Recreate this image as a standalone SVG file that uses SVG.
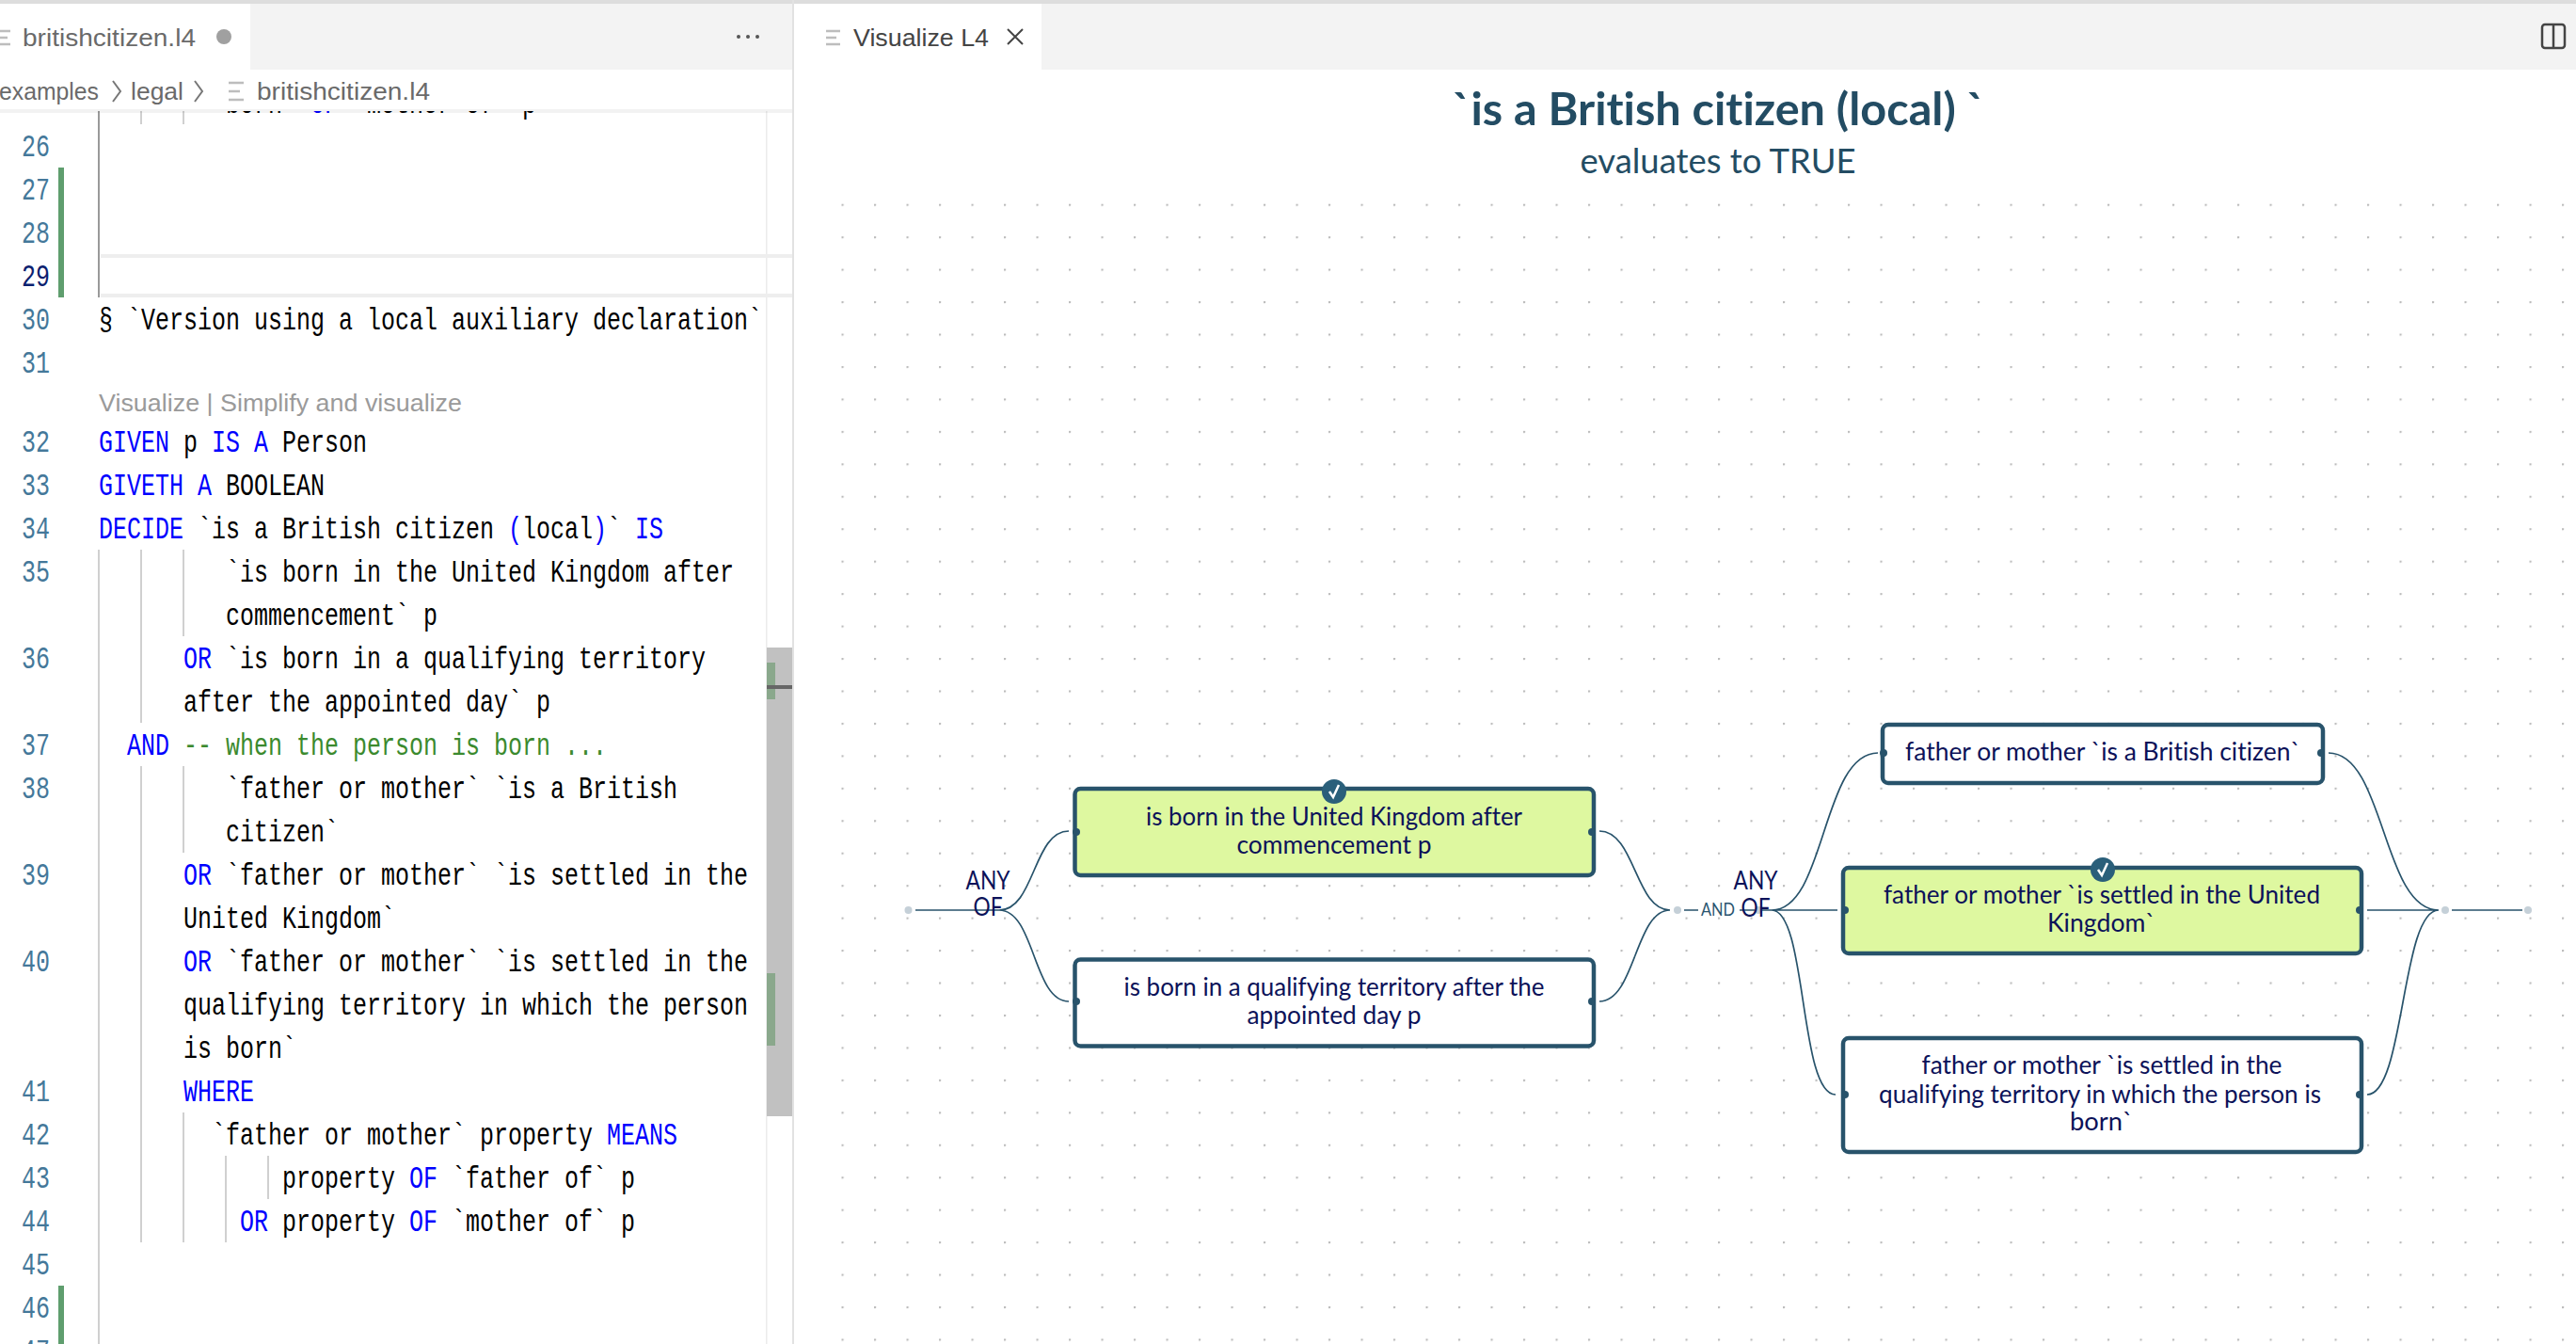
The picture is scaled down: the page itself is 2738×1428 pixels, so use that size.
<svg xmlns="http://www.w3.org/2000/svg" width="2738" height="1428" viewBox="0 0 2738 1428">
<style>
.m{font-family:"Liberation Mono",monospace;font-size:33px;fill:#000}
.k{fill:#0000ff}.c{fill:#3b8a2e}
.n{fill:#44789a}
.s{font-family:"Lato","Liberation Sans",sans-serif;font-variant-ligatures:none}
.ui{font-family:"Liberation Sans",sans-serif;font-size:25px;fill:#6a6a6a}
.g{stroke:#d0d0d0;stroke-width:2;fill:none}
.box{fill:#fff;stroke:#28536b;stroke-width:4.5}
.box.t{fill:#def8a0}
.p{fill:#28536b}
.e{fill:#c5d0d8}
.w{fill:none;stroke:#28536b;stroke-width:1.7}
.nt{font-family:"Lato","Liberation Sans",sans-serif;font-size:27px;fill:#0c1259;text-anchor:middle;font-variant-ligatures:none}
.lab{font-family:"Lato","Liberation Sans",sans-serif;font-size:26px;fill:#0c1259;text-anchor:middle}
.ck{fill:none;stroke:#fff;stroke-width:2.5}
.ic{stroke:#bdbdbd;stroke-width:2.5;fill:none}
</style>
<defs>
<pattern id="dots" x="894.5" y="216.7" width="34.5" height="34.45" patternUnits="userSpaceOnUse"><circle cx="1" cy="1" r="1.3" fill="#bcbcbc"/></pattern>
</defs>
<rect width="2738" height="1428" fill="#fff"/>
<g id="editor">
<rect x="814" y="118" width="1.5" height="1310" fill="#ececec"/>
<path class="g" style="stroke:#9a9a9a" d="M105 118V316"/>
<path class="g" d="M105 584V1428M150 118V132M195 118V132M150 584V768M150 814V1320M195 584V676M195 814V906M195 1182V1320M240 1228V1320M285 1228V1274"/>
<rect x="107" y="270" width="735" height="4" fill="#eeeeee"/>
<rect x="107" y="312" width="735" height="4" fill="#eeeeee"/>
<rect x="62" y="178" width="6" height="138" fill="#5f9e6e"/>
<rect x="62" y="1366" width="6" height="62" fill="#5f9e6e"/>
<g transform="translate(23 0) scale(.7576 1)">
<text class="m n" y="166">26</text><text class="m n" y="212">27</text><text class="m n" y="258">28</text><text class="m" style="fill:#0b216f" y="304">29</text><text class="m n" y="350">30</text><text class="m n" y="396">31</text><text class="m n" y="480">32</text><text class="m n" y="526">33</text><text class="m n" y="572">34</text><text class="m n" y="618">35</text><text class="m n" y="710">36</text><text class="m n" y="802">37</text><text class="m n" y="848">38</text><text class="m n" y="940">39</text><text class="m n" y="1032">40</text><text class="m n" y="1170">41</text><text class="m n" y="1216">42</text><text class="m n" y="1262">43</text><text class="m n" y="1308">44</text><text class="m n" y="1354">45</text><text class="m n" y="1400">46</text><text class="m n" y="1446">47</text>
</g>
<g transform="translate(105 0) scale(.7576 1)">
<text class="m" x="178.2" y="120">born</text><text class="m k" x="297" y="120">OF</text><text class="m" x="356.4" y="120">`mother of` p</text>
<text class="m" y="350">§ `Version using a local auxiliary declaration`</text>
<text class="m" y="480"><tspan class="k">GIVEN</tspan> p <tspan class="k">IS A</tspan> Person</text>
<text class="m" y="526"><tspan class="k">GIVETH A</tspan> BOOLEAN</text>
<text class="m" y="572"><tspan class="k">DECIDE</tspan> `is a British citizen <tspan class="k">(</tspan>local<tspan class="k">)</tspan>` <tspan class="k">IS</tspan></text>
<text class="m" x="178.2" y="618">`is born in the United Kingdom after</text>
<text class="m" x="178.2" y="664">commencement` p</text>
<text class="m" x="118.8" y="710"><tspan class="k">OR</tspan> `is born in a qualifying territory</text>
<text class="m" x="118.8" y="756">after the appointed day` p</text>
<text class="m" x="39.6" y="802"><tspan class="k">AND</tspan> <tspan class="c">-- when the person is born ...</tspan></text>
<text class="m" x="178.2" y="848">`father or mother` `is a British</text>
<text class="m" x="178.2" y="894">citizen`</text>
<text class="m" x="118.8" y="940"><tspan class="k">OR</tspan> `father or mother` `is settled in the</text>
<text class="m" x="118.8" y="986">United Kingdom`</text>
<text class="m" x="118.8" y="1032"><tspan class="k">OR</tspan> `father or mother` `is settled in the</text>
<text class="m" x="118.8" y="1078">qualifying territory in which the person</text>
<text class="m" x="118.8" y="1124">is born`</text>
<text class="m k" x="118.8" y="1170">WHERE</text>
<text class="m" x="158.4" y="1216">`father or mother` property <tspan class="k">MEANS</tspan></text>
<text class="m" x="257.4" y="1262">property <tspan class="k">OF</tspan> `father of` p</text>
<text class="m" x="198" y="1308"><tspan class="k">OR</tspan> property <tspan class="k">OF</tspan> `mother of` p</text>
</g>
<text class="ui" style="fill:#9a9a9a" x="105" y="437" textLength="386" lengthAdjust="spacingAndGlyphs">Visualize | Simplify and visualize</text>
<rect x="815" y="688" width="27" height="498" fill="#c1c1c1"/>
<rect x="815" y="704" width="9" height="39" fill="#8aa88c"/>
<rect x="815" y="1034" width="9" height="77" fill="#8aa88c"/>
<rect x="815" y="728" width="27" height="4" fill="#666"/>
</g>
<g id="chrome">
<rect y="74" width="842" height="44" fill="#fff"/>
<rect y="116" width="842" height="4" fill="#000" opacity=".05"/>
<rect width="2738" height="4" y="0" fill="#dddddd"/>
<rect y="4" width="842" height="70" fill="#f3f3f3"/>
<rect y="4" width="266" height="70" fill="#fff"/>
<rect x="842" y="0" width="2" height="1428" fill="#e2e2e2"/>
<path class="ic" d="M0 33H11M0 40H8M0 47H11"/>
<text class="ui" x="24" y="49" textLength="184" lengthAdjust="spacingAndGlyphs">britishcitizen.l4</text>
<circle cx="238" cy="39" r="8" fill="#a0a0a0"/>
<g fill="#555"><circle cx="785" cy="39" r="2"/><circle cx="795" cy="39" r="2"/><circle cx="805" cy="39" r="2"/></g>
<text class="ui" x="-1" y="106" textLength="106" lengthAdjust="spacingAndGlyphs">examples</text>
<path fill="none" stroke="#777" stroke-width="2" d="M120 86L128 97L120 108M207 86L215 97L207 108"/>
<text class="ui" x="139" y="106" textLength="56" lengthAdjust="spacingAndGlyphs">legal</text>
<path class="ic" d="M243 88H259M243 97H255M243 106H259"/>
<text class="ui" x="273" y="106" textLength="184" lengthAdjust="spacingAndGlyphs">britishcitizen.l4</text>
<rect x="844" y="4" width="1894" height="70" fill="#f3f3f3"/>
<rect x="844" y="4" width="263" height="70" fill="#fff"/>
<path class="ic" d="M878 33H893M878 40H889M878 47H893"/>
<text class="ui" style="fill:#444" x="907" y="49" textLength="144" lengthAdjust="spacingAndGlyphs">Visualize L4</text>
<path fill="none" stroke="#444" stroke-width="2" d="M1071 31L1087 47M1087 31L1071 47"/>
<rect x="2702" y="26" width="24" height="25" rx="3" fill="none" stroke="#444" stroke-width="2.5"/>
<path stroke="#444" stroke-width="2.5" d="M2714 26V51"/>
</g>
<g id="title">
<text class="s" x="1827" y="133" text-anchor="middle" font-size="48" font-weight="700" fill="#234c63" textLength="566" lengthAdjust="spacingAndGlyphs">`is a British citizen (local) `</text>
<text class="s" x="1826" y="184" text-anchor="middle" font-size="36" fill="#234c63" textLength="293" lengthAdjust="spacingAndGlyphs">evaluates to TRUE</text>
</g>
<rect id="grid" x="890" y="212" width="1848" height="1216" fill="url(#dots)"/>
<g id="connectors">
<path class="w" d="M973 967H1062C1100 967 1098 883 1136 883M1062 967C1100 967 1098 1064 1136 1064"/>
<path class="w" d="M1700 883C1738 883 1738 967 1775 967M1700 1064C1738 1064 1738 967 1775 967"/>
<path class="w" d="M1790 967H1805M1849 967H1883"/>
<path class="w" d="M1883 967C1941 967 1936 800 1996 800M1883 967H1953M1883 967C1921 967 1912 1163 1951 1163"/>
<path class="w" d="M2475 800C2535 800 2532 967 2592 967M2516 967H2592M2516 1163C2556 1163 2552 967 2592 967M2606 967H2681"/>
</g>
<g id="node-start"><circle class="e" cx="965.500" cy="967" r="4"/></g>
<g id="node-any-1"><text class="lab" x="1050" y="945" textLength="47" lengthAdjust="spacingAndGlyphs">ANY</text><text class="lab" x="1050" y="973" textLength="31" lengthAdjust="spacingAndGlyphs">OF</text></g>
<g id="node-1"><rect class="box t" x="1142.500" y="838" width="551.500" height="92" rx="6"/><circle class="p" cx="1144" cy="884" r="4"/><circle class="p" cx="1692" cy="884" r="4"/><circle cx="1418" cy="841" r="13" fill="#2a5f7a"/><path class="ck" d="M1413 841L1417 847L1423 834"/><text class="nt" x="1418" y="877" textLength="400" lengthAdjust="spacingAndGlyphs">is born in the United Kingdom after</text><text class="nt" x="1418" y="907" textLength="207" lengthAdjust="spacingAndGlyphs">commencement p</text></g>
<g id="node-2"><rect class="box" x="1142.500" y="1019.500" width="551.500" height="92" rx="6"/><circle class="p" cx="1144" cy="1064" r="4"/><circle class="p" cx="1692" cy="1064" r="4"/><text class="nt" x="1418" y="1058" textLength="447" lengthAdjust="spacingAndGlyphs">is born in a qualifying territory after the</text><text class="nt" x="1418" y="1088" textLength="185" lengthAdjust="spacingAndGlyphs">appointed day p</text></g>
<g id="node-and"><circle class="e" cx="1783" cy="967" r="4"/><text x="1826" y="973" text-anchor="middle" font-family="Lato,sans-serif" font-size="20" fill="#2a5570" textLength="36" lengthAdjust="spacingAndGlyphs">AND</text></g>
<g id="node-any-2"><circle class="e" cx="1869" cy="967" r="4"/><text class="lab" x="1866" y="945" textLength="47" lengthAdjust="spacingAndGlyphs">ANY</text><text class="lab" x="1866" y="974" textLength="31" lengthAdjust="spacingAndGlyphs">OF</text></g>
<g id="node-3"><rect class="box" x="2001" y="770" width="468" height="62" rx="6"/><circle class="p" cx="2002" cy="800" r="4"/><circle class="p" cx="2467" cy="800" r="4"/><text class="nt" x="2235" y="808" textLength="420" lengthAdjust="spacingAndGlyphs">father or mother `is a British citizen`</text></g>
<g id="node-4"><rect class="box t" x="1959" y="922" width="551" height="91" rx="6"/><circle class="p" cx="1961" cy="967" r="4"/><circle class="p" cx="2508" cy="967" r="4"/><circle cx="2235" cy="924" r="13" fill="#2a5f7a"/><path class="ck" d="M2230 924L2234 930L2240 917"/><text class="nt" x="2234" y="960" textLength="464" lengthAdjust="spacingAndGlyphs">father or mother `is settled in the United</text><text class="nt" x="2233.500" y="990" textLength="115" lengthAdjust="spacingAndGlyphs">Kingdom`</text></g>
<g id="node-5"><rect class="box" x="1959" y="1103" width="551" height="121" rx="6"/><circle class="p" cx="1961" cy="1163" r="4"/><circle class="p" cx="2508" cy="1163" r="4"/><text class="nt" x="2234" y="1141" textLength="383" lengthAdjust="spacingAndGlyphs">father or mother `is settled in the</text><text class="nt" x="2232" y="1172" textLength="470" lengthAdjust="spacingAndGlyphs">qualifying territory in which the person is</text><text class="nt" x="2233.500" y="1201" textLength="67" lengthAdjust="spacingAndGlyphs">born`</text></g>
<g id="node-end"><circle class="e" cx="2599" cy="967" r="4"/><circle class="e" cx="2687" cy="967" r="4"/></g>
</svg>
